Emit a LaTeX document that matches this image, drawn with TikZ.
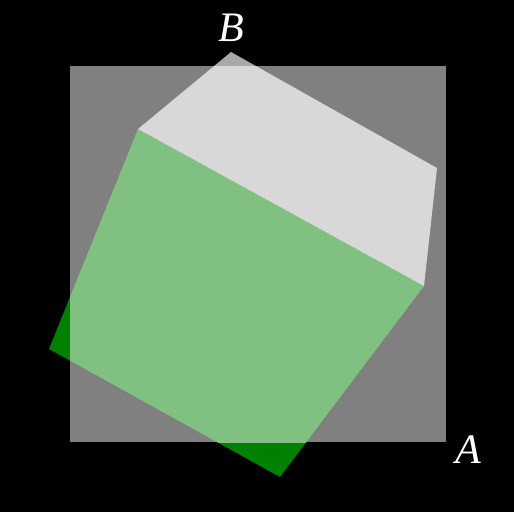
\documentclass[tikz,border=0pt]{standalone}
\usepackage{fontspec}
\setmainfont{Liberation Serif}
\definecolor{plate}{RGB}{128,128,128}
\definecolor{faceout}{RGB}{0,128,0}
\definecolor{facein}{RGB}{128,192,128}
\definecolor{lidout}{RGB}{168,168,168}
\definecolor{lidin}{RGB}{216,216,216}

\begin{document}
\begin{tikzpicture}[
  x=1pt, y=-1pt,
  lbl/.style={text=white, inner sep=0pt, font=\fontsize{42}{42}\selectfont\itshape}]

% pixel frame of the picture, y counted downwards
\fill[black] (0,0) rectangle (514,512);
\useasboundingbox (0,0) rectangle (514,512);

% corners of the tilted faces
\coordinate (gtl) at (138,129);
\coordinate (gr)  at (424,286);
\coordinate (gb)  at (280,477);
\coordinate (gl)  at (49,349);
\coordinate (wt)  at (231,52);
\coordinate (wr)  at (437,168);

% ----------------------- faces seen on black ------------------------
\fill[faceout] (gtl) -- (gr) -- (gb) -- (gl) -- cycle;
\fill[lidout]  (gtl) -- (wt) -- (wr) -- (gr) -- cycle;

% ---------------------------- the plate -----------------------------
\fill[plate] (70,66) rectangle (446,442);

% ----------------------- faces seen on the plate --------------------
\begin{scope}
  \clip (70,66) rectangle (446,442);
  \fill[facein] (gtl) -- (gr) -- (gb) -- (gl) -- cycle;
  \fill[lidin]  (gtl) -- (wt) -- (wr) -- (gr) -- cycle;
\end{scope}

% ----------------------------- labels -------------------------------
\node[lbl] (B) at (231,28) {B};
\node[lbl] (A) at (468,450) {A};

\end{tikzpicture}
\end{document}
